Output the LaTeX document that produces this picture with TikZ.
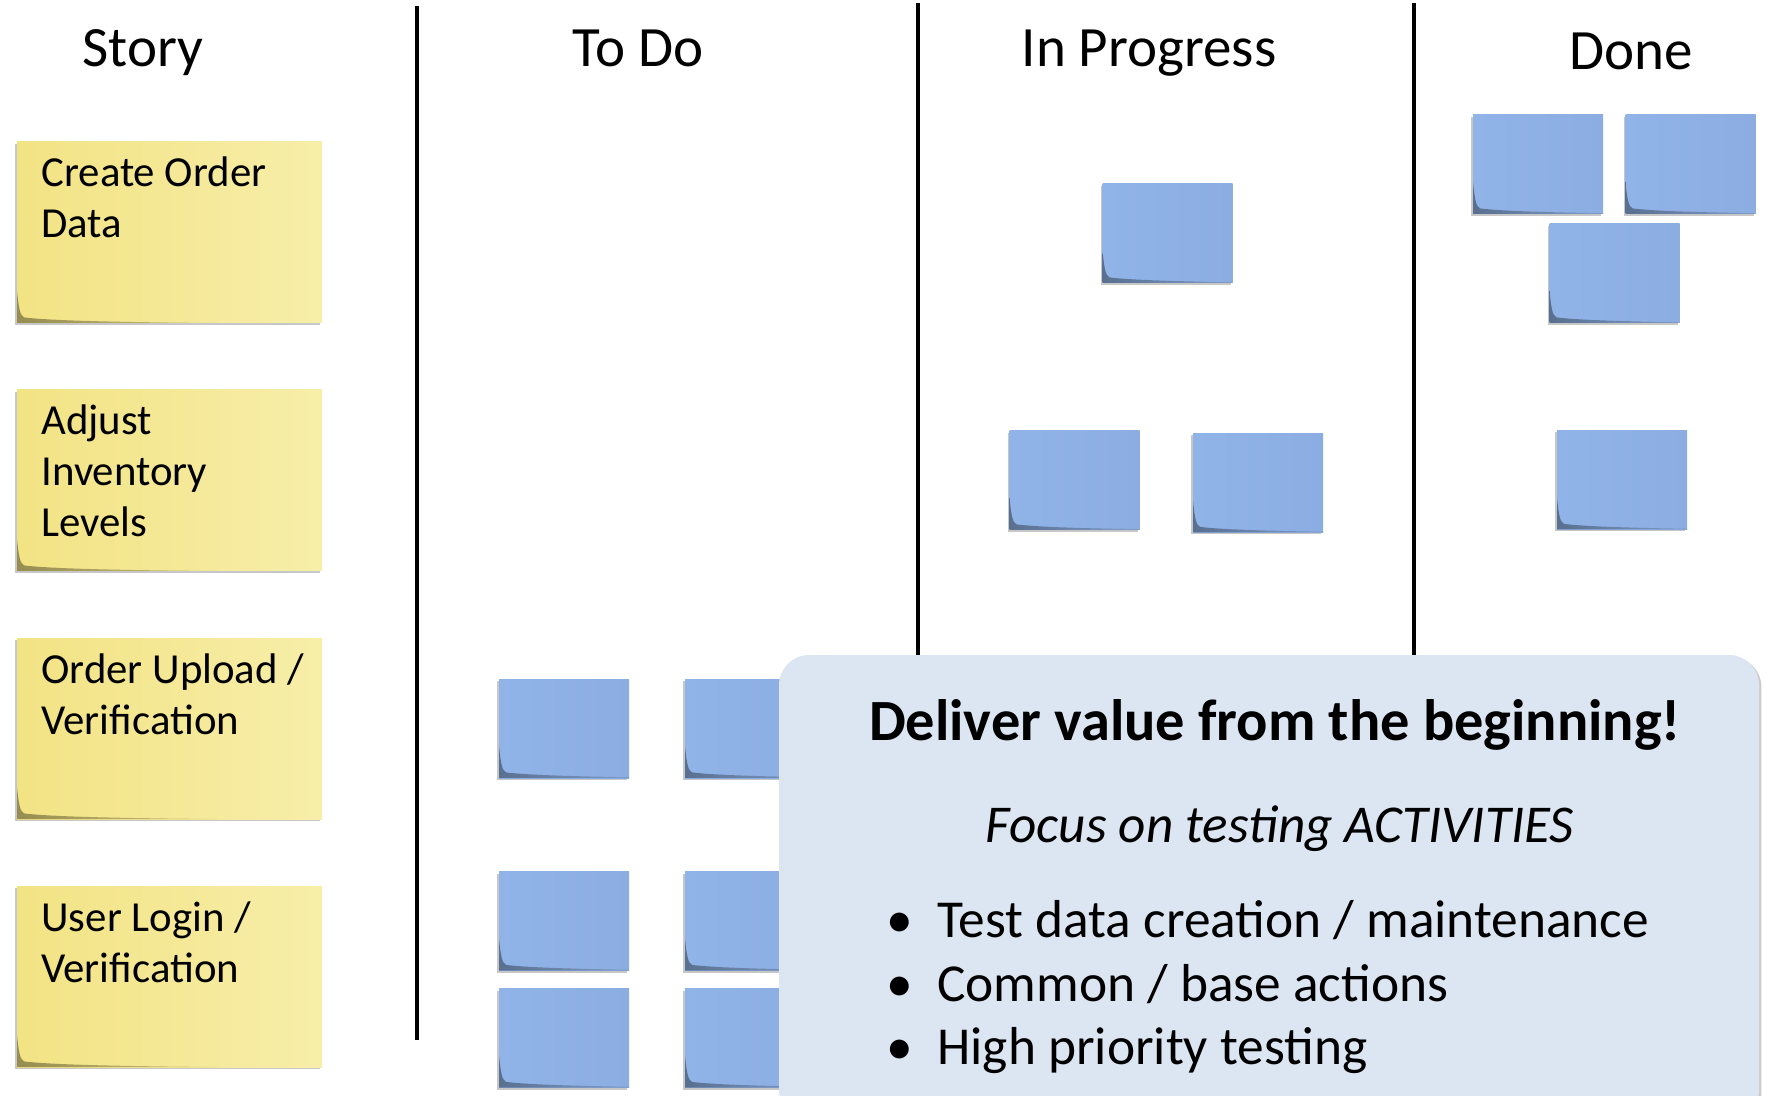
\documentclass[tikz,border=0pt]{standalone}
\usepackage{fontspec}
\setmainfont{Carlito}
\usepackage{tikz}
\usetikzlibrary{calc,positioning,shadows}
\definecolor{noteyellow}{HTML}{F2E384}
\definecolor{noteyellowlight}{HTML}{F7EEA9}
\definecolor{noteblue}{HTML}{91B4E8}
\definecolor{notebluedark}{HTML}{8BADE2}
\definecolor{calloutblue}{HTML}{DCE6F2}
\newcommand{\stickytext}[1]{\parbox[c][81.2pt][t]{129.5pt}{\raggedright\strut#1}}
\tikzset{
	kanban board/.style={x=.5pt, y=-.5pt},
	column head/.style={font=\fontsize{28.5}{34}\selectfont, anchor=base, inner sep=0pt},
	divider/.style={line width=2.25pt},
	sticky/.style 2 args={
		rectangle, inner sep=0pt, outer sep=0pt,
		left color=#1, right color=#2,
		drop shadow={shadow xshift=-.8pt, shadow yshift=-1pt, opacity=.22, fill=black},
		path picture={
			\shade[left color=black!38!#1, right color=#1]
				let \p1=(path picture bounding box.south west) in
				(\x1,\y1+16pt) .. controls (\x1+.8pt,\y1+8pt) and (\x1+1.5pt,\y1+3.5pt) .. (\x1+3.5pt,\y1+2.8pt)
				.. controls (\x1+16pt,\y1+1.2pt) and (\x1+50pt,\y1+.4pt) .. (\x1+100pt,\y1) -- (\x1,\y1) -- cycle;
		}},
	yellow sticky/.style={sticky={noteyellow}{noteyellowlight}, anchor=north west,
		inner xsep=10.75pt, inner ysep=4.65pt, font=\fontsize{21.4}{25.5}\selectfont},
	blue sticky/.style={sticky={noteblue}{notebluedark}, minimum width=65pt, minimum height=49.5pt},
	callout/.style={fill=calloutblue, rounded corners=15pt, minimum width=490pt, minimum height=232.5pt,
		drop shadow={shadow xshift=1.2pt, shadow yshift=-1pt, opacity=.2, fill=black}},
	callout head/.style={font=\fontsize{29.2}{35}\selectfont\bfseries, anchor=base, inner sep=0pt},
	callout item/.style={font=\fontsize{26.7}{32}\selectfont, anchor=base west, inner sep=0pt}
}
\begin{document}
\begin{tikzpicture}[kanban board]
  \useasboundingbox (0,0) rectangle (1768,1096);
  \clip (0,0) rectangle (1768,1096);
  \node[column head] (story) at (143,67) {Story};
  \node[column head] (todo) at (638,67) {To Do};
  \node[column head] (progress) at (1149,67) {In Progress};
  \node[column head] (done) at (1631,70) {Done};
  \draw[divider] (417,6) -- (417,1040);
  \draw[divider] (918,3) -- (918,660);
  \draw[divider] (1414,3) -- (1414,660);
  \foreach \n/\y/\t in {create/142/{Create Order\\Data},
                        adjust/390/{Adjust\\Inventory\\Levels},
                        upload/638/{\mbox{Order Upload /}\\Verification},
                        login/886/{\mbox{User Login /}\\Verification}}
    \node[yellow sticky] (\n) at (17,\y) {\hspace{1.5pt}\stickytext{\t}};
  \foreach \n/\x/\y in {todoA/564/728.5, todoB/750/728.5, todoC/564/921, todoD/750/921,
                        todoE/564/1038, todoF/750/1038,
                        progA/1167.5/233.5, progB/1074.5/480.5, progC/1258/483,
                        doneA/1538/164.5, doneB/1690.5/164.5, doneC/1614.5/273.5, doneD/1622/480}
    \node[blue sticky] (\n) at (\x,\y) {};
  \node[callout] (box) at (1269,887.5) {};
  \node[callout head] (value) at (1275,740) {Deliver value from the beginning!};
  \node[callout item, anchor=base, font=\fontsize{26.6}{32}\selectfont\itshape] (focus) at (1280,842) {Focus on testing ACTIVITIES};
  \node[callout item] (itemA) at (899,937) {\makebox[0pt]{\textbullet}\hspace{19pt}Test data creation / maintenance};
  \node[callout item] (itemB) at (899,1001) {\makebox[0pt]{\textbullet}\hspace{19pt}Common / base actions};
  \node[callout item] (itemC) at (899,1064) {\makebox[0pt]{\textbullet}\hspace{19pt}High priority testing};
\end{tikzpicture}
\end{document}
